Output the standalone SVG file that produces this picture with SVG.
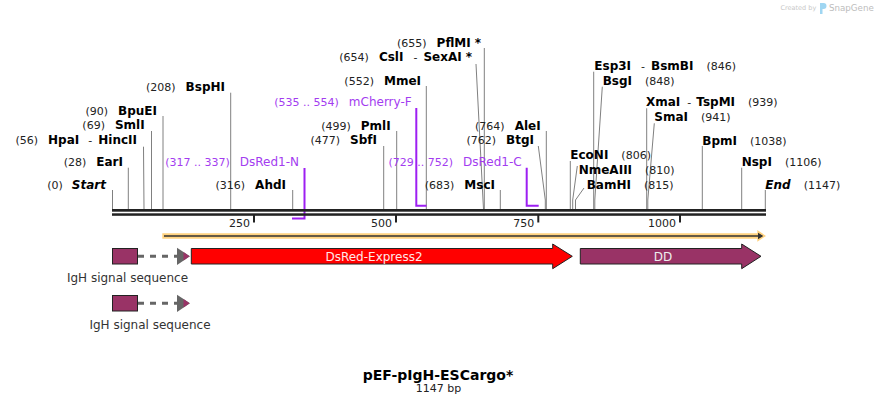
<svg xmlns="http://www.w3.org/2000/svg" width="878" height="406" viewBox="0 0 878 406">
<style>
text{font-family:"DejaVu Sans","Liberation Sans",sans-serif}
.nm{font-size:12px;font-weight:bold;fill:#000}
.ps{font-size:11px;fill:#222;font-weight:normal}
.dash{font-size:11px;fill:#222;font-weight:normal}
.pr{font-size:12px;fill:#a33cf0}
.prp{font-size:11px;fill:#a33cf0}
.cut{stroke:#808080;stroke-width:1;fill:none}
.pl{stroke:#9d1ff2;stroke-width:2;fill:none}
.tick{stroke:#222;stroke-width:2}
.tl{font-size:11px;fill:#222;text-anchor:end}
.ft{stroke:#222;stroke-width:1}
.lbl{font-size:12px;fill:#333;text-anchor:middle}
</style>
<rect width="878" height="406" fill="#fff"/>

<g id="watermark">
<text x="780.5" y="10" font-size="6.5" fill="#c8c8c8">Created by</text>
<path d="M820 3 h3.5 a3 3 0 0 1 0 6 h-1 v5 h-2.5 z" fill="#9fd6f2"/>
<text x="829" y="11" font-size="8.7" fill="#bdbdbd">SnapGene</text>
</g>

<g id="connectors">
<line class="cut" x1="112.5" y1="190" x2="112.5" y2="209"/>
<line class="cut" x1="128.3" y1="167.7" x2="128.3" y2="209"/>
<polyline class="cut" points="143.5,146.7 144,209" stroke="#aaa"/>
<line class="cut" x1="151.5" y1="131" x2="151.5" y2="209"/>
<line class="cut" x1="163" y1="116" x2="163" y2="209"/>
<line class="cut" x1="230.7" y1="92.7" x2="230.7" y2="209"/>
<line class="cut" x1="292.7" y1="190" x2="292.7" y2="209"/>
<line class="cut" x1="383.7" y1="146" x2="383.7" y2="209"/>
<line class="cut" x1="396.7" y1="131" x2="396.7" y2="209"/>
<line class="cut" x1="426.3" y1="86" x2="426.3" y2="209"/>
<polyline class="cut" points="476,64 483,200 483.5,209"/>
<line class="cut" x1="484.3" y1="48" x2="484.3" y2="209"/>
<line class="cut" x1="500.3" y1="190" x2="500.3" y2="209"/>
<polyline class="cut" points="538.3,146 545.3,200 545.3,209"/>
<line class="cut" x1="546.3" y1="131" x2="546.3" y2="209"/>
<line class="cut" x1="570.3" y1="161" x2="570.3" y2="209"/>
<polyline class="cut" points="577.3,166 572.7,200 572.7,209"/>
<polyline class="cut" points="584,188 575.5,200 575.5,209"/>
<line class="cut" x1="593.7" y1="71.7" x2="593.7" y2="209"/>
<polyline class="cut" points="602.3,86.7 594.8,200 594.8,209"/>
<line class="cut" x1="646.7" y1="108.3" x2="646.7" y2="209"/>
<polyline class="cut" points="654.3,123.3 647.8,200 647.8,209"/>
<line class="cut" x1="702.3" y1="146" x2="702.3" y2="209"/>
<line class="cut" x1="741.7" y1="167.7" x2="741.7" y2="209"/>
<line class="cut" x1="765.3" y1="190" x2="765.3" y2="209"/>
<!-- primers -->
<polyline class="pl" points="304.5,168 304.5,218.5 292,218.5"/>
<polyline class="pl" points="416.3,108 416.3,205.7 426.5,205.7"/>
<polyline class="pl" points="526.7,167.7 526.7,205.7 538.7,205.7"/>
</g>

<g id="backbone">
<rect x="112" y="209" width="654" height="2.7" fill="#222"/>
<rect x="112" y="213.3" width="654" height="2.5" fill="#222"/>
<line class="tick" x1="254" y1="215" x2="254" y2="222.5"/>
<line class="tick" x1="396" y1="215" x2="396" y2="222.5"/>
<line class="tick" x1="538.3" y1="215" x2="538.3" y2="222.5"/>
<line class="tick" x1="680" y1="215" x2="680" y2="222.5"/>
<text class="tl" x="250" y="226.5">250</text>
<text class="tl" x="392" y="226.5">500</text>
<text class="tl" x="534.3" y="226.5">750</text>
<text class="tl" x="676" y="226.5">1000</text>
</g>

<g id="labels-left" text-anchor="end">
<text x="106" y="189"><tspan class="ps">(0)</tspan><tspan class="nm" dx="9" font-style="italic">Start</tspan></text>
<text x="123" y="166"><tspan class="ps">(28)</tspan><tspan class="nm" dx="10">EarI</tspan></text>
<text x="137" y="144"><tspan class="ps">(56)</tspan><tspan class="nm" dx="10">HpaI</tspan><tspan class="dash" dx="9">-</tspan><tspan class="nm" dx="6">HincII</tspan></text>
<text x="144.7" y="128.5"><tspan class="ps">(69)</tspan><tspan class="nm" dx="10">SmlI</tspan></text>
<text x="157" y="114.5"><tspan class="ps">(90)</tspan><tspan class="nm" dx="10">BpuEI</tspan></text>
<text x="225" y="90.5"><tspan class="ps">(208)</tspan><tspan class="nm" dx="10">BspHI</tspan></text>
<text x="286" y="189"><tspan class="ps">(316)</tspan><tspan class="nm" dx="10">AhdI</tspan></text>
<text x="299" y="166"><tspan class="prp">(317 .. 337)</tspan><tspan class="pr" dx="10">DsRed1-N</tspan></text>
<text x="411.7" y="106"><tspan class="prp">(535 .. 554)</tspan><tspan class="pr" dx="10">mCherry-F</tspan></text>
<text x="377" y="144"><tspan class="ps">(477)</tspan><tspan class="nm" dx="10">SbfI</tspan></text>
<text x="390.7" y="129.5"><tspan class="ps">(499)</tspan><tspan class="nm" dx="10">PmlI</tspan></text>
<text x="421" y="84.5"><tspan class="ps">(552)</tspan><tspan class="nm" dx="10">MmeI</tspan></text>
<text x="472" y="61"><tspan class="ps">(654)</tspan><tspan class="nm" dx="10">CslI</tspan><tspan class="dash" dx="10">-</tspan><tspan class="nm" dx="6">SexAI</tspan><tspan class="nm" dx="4">*</tspan></text>
<text x="481" y="46.5"><tspan class="ps">(655)</tspan><tspan class="nm" dx="10">PflMI</tspan><tspan class="nm" dx="4">*</tspan></text>
<text x="495" y="189"><tspan class="ps">(683)</tspan><tspan class="nm" dx="10">MscI</tspan></text>
<text x="521.7" y="166"><tspan class="prp">(729 .. 752)</tspan><tspan class="pr" dx="10">DsRed1-C</tspan></text>
<text x="534" y="144"><tspan class="ps">(762)</tspan><tspan class="nm" dx="10">BtgI</tspan></text>
<text x="540.7" y="129.5"><tspan class="ps">(764)</tspan><tspan class="nm" dx="10">AleI</tspan></text>
</g>

<g id="labels-right">
<text x="570.3" y="158.5"><tspan class="nm">EcoNI</tspan><tspan class="ps" dx="13">(806)</tspan></text>
<text x="578.7" y="173.5"><tspan class="nm">NmeAIII</tspan><tspan class="ps" dx="13">(810)</tspan></text>
<text x="586.7" y="188.5"><tspan class="nm">BamHI</tspan><tspan class="ps" dx="13">(815)</tspan></text>
<text x="594.3" y="69.5"><tspan class="nm">Esp3I</tspan><tspan class="dash" dx="10">-</tspan><tspan class="nm" dx="6">BsmBI</tspan><tspan class="ps" dx="13">(846)</tspan></text>
<text x="602.7" y="84.5"><tspan class="nm">BsgI</tspan><tspan class="ps" dx="13">(848)</tspan></text>
<text x="646" y="106"><tspan class="nm">XmaI</tspan><tspan class="dash" dx="7">-</tspan><tspan class="nm" dx="5">TspMI</tspan><tspan class="ps" dx="13">(939)</tspan></text>
<text x="654.3" y="121"><tspan class="nm">SmaI</tspan><tspan class="ps" dx="13">(941)</tspan></text>
<text x="702.3" y="144.5"><tspan class="nm">BpmI</tspan><tspan class="ps" dx="13">(1038)</tspan></text>
<text x="741.7" y="166"><tspan class="nm">NspI</tspan><tspan class="ps" dx="13">(1106)</tspan></text>
<text x="765.3" y="189"><tspan class="nm" font-style="italic">End</tspan><tspan class="ps" dx="13">(1147)</tspan></text>
</g>

<g id="orf">
<path d="M162.3 233.3 H757.3 V230 L766 236 L757.3 241.7 V238.7 H162.3 Z" fill="#ffd27f"/>
<path d="M164 235.2 H758 V232.7 L763.3 236 L758 239.3 V236.8 H164 Z" fill="#333"/>
</g>

<g id="igh1">
<rect class="ft" x="112.5" y="248.5" width="25" height="15.5" fill="#993366"/>
<line x1="138" y1="256.3" x2="177" y2="256.3" stroke="#666" stroke-width="3" stroke-dasharray="6 6"/>
<polygon points="177,247.7 190,256.3 177,264.9" fill="#666"/>
<polygon points="183.5,252 189.5,256.3 183.5,260.6" fill="#993366"/>
<text class="lbl" x="127.5" y="281.5">IgH signal sequence</text>
</g>

<g id="igh2">
<rect class="ft" x="112.5" y="295.5" width="25" height="15.5" fill="#993366"/>
<line x1="138" y1="303.3" x2="177" y2="303.3" stroke="#666" stroke-width="3" stroke-dasharray="6 6"/>
<polygon points="177,294.7 190,303.3 177,311.9" fill="#666"/>
<polygon points="183.5,299 189.5,303.3 183.5,307.6" fill="#993366"/>
<text class="lbl" x="150" y="328.5">IgH signal sequence</text>
</g>

<g id="dsred">
<polygon class="ft" points="191.3,248.5 552.7,248.5 552.7,244 572.3,256.3 552.7,268.7 552.7,264 191.3,264" fill="#ff0000"/>
<text x="374" y="260.5" font-size="12" fill="#ffe8e8" text-anchor="middle">DsRed-Express2</text>
</g>

<g id="dd">
<polygon class="ft" points="580.3,248.5 741.7,248.5 741.7,244 761,256.3 741.7,268.7 741.7,264 580.3,264" fill="#993366"/>
<text x="663" y="260.5" font-size="12" fill="#eee" text-anchor="middle">DD</text>
</g>

<g id="title">
<text x="438" y="380" font-size="14" font-weight="bold" fill="#000" text-anchor="middle">pEF-pIgH-ESCargo*</text>
<text x="438.5" y="392" font-size="11" fill="#222" text-anchor="middle">1147 bp</text>
</g>
</svg>
